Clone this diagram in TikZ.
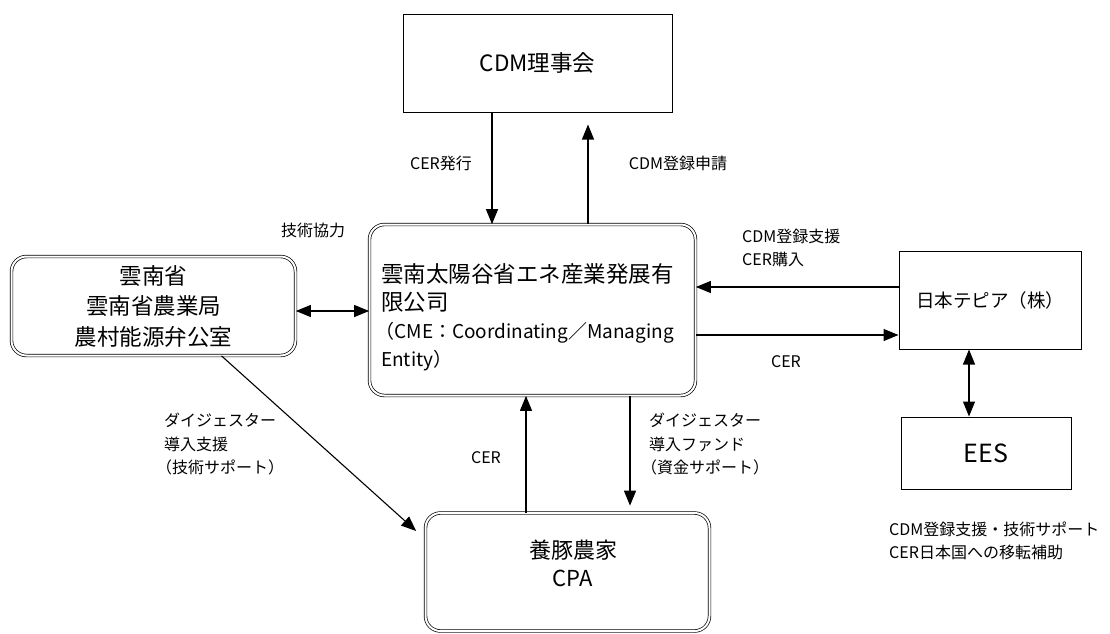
\documentclass[tikz,border=0pt]{standalone}
\usepackage{fontspec}
\setmainfont{Noto Sans CJK JP}
\usepackage{tikz}
\usetikzlibrary{arrows.meta,positioning}

\begin{document}
\begin{tikzpicture}[x=1pt, y=-1pt,
    box/.style={rectangle, draw, line width=1pt},
    dbox/.style={rectangle, rounded corners=15pt, draw, line width=0.7pt,
                 double, double distance=2pt},
    lbl/.style={font=\fontsize{16}{23.5}\selectfont, align=left, inner sep=0pt},
    arr/.style={line width=1.1pt, -{Triangle[length=15pt,width=12pt]}},
    darr/.style={line width=1.1pt, {Triangle[length=15pt,width=12pt]}-{Triangle[length=15pt,width=12pt]}},
]
\useasboundingbox (0,0) rectangle (1110,633);

% CDM board
\node[box, minimum width=269pt, minimum height=98pt,
      font=\fontsize{22.5}{26}\selectfont] (cdm) at (537.5,63) {CDM理事会};

% CME box
\node[dbox, minimum width=326pt, minimum height=171pt] (cme) at (532.5,310) {};
\node[anchor=west, align=left, inner sep=0pt, font=\fontsize{22.5}{28}\selectfont]
      (cmetext) at (381,317) {雲南太陽谷省エネ産業発展有\\限公司\\
      {\fontsize{19}{28}\selectfont \kern-0.3em（CME：Coordinating／Managing}\\
      {\fontsize{19}{28}\selectfont Entity）}};

% Yunnan province box
\node[dbox, minimum width=284pt, minimum height=99pt, align=center,
      font=\fontsize{22.5}{30.5}\selectfont] (yunnan) at (153.5,306)
      {雲南省\\雲南省農業局\\農村能源弁公室};

% Tepia box
\node[box, minimum width=182pt, minimum height=98pt,
      font=\fontsize{18.5}{22}\selectfont] (tepia) at (990,300) {日本テピア（株）};

% EES box
\node[box, minimum width=170pt, minimum height=72pt,
      font=\fontsize{25}{28}\selectfont] (ees) at (986,453) {EES};

% pig farmers box
\node[dbox, minimum width=284pt, minimum height=118pt] (cpa) at (567.5,572) {};
\node[align=center, inner sep=0pt, font=\fontsize{22}{28}\selectfont]
      (cpatext) at (573,563) {養豚農家\\CPA};

% connectors
\draw[arr] ([xshift=-45.5pt]cdm.south) -- ([xshift=-40.5pt]cme.north);
\draw[arr] ([xshift=55.5pt]cme.north) -- ([xshift=50.5pt,yshift=-12pt]cdm.south);
\draw[darr] ([yshift=-5pt]yunnan.east) -- ([yshift=-5pt]yunnan.east -| cme.west);
\draw[arr] ([yshift=13pt]tepia.west) -- ([yshift=13pt]tepia.west -| cme.east);
\draw[arr] ([yshift=-35pt]tepia.west -| cme.east) -- ([yshift=-35pt]tepia.west);
\draw[darr] ([xshift=-21pt]tepia.south) -- ([xshift=-17pt]ees.north);
\draw[arr] ([xshift=68pt]yunnan.south) -- ([xshift=-9pt,yshift=41pt]cpa.west);
\draw[arr] ([xshift=-41.5pt]cpa.north) -- ([xshift=-6.5pt]cme.south);
\draw[arr] ([xshift=97.5pt]cme.south) -- ([xshift=62.5pt,yshift=7pt]cpa.north);

% labels
\node[lbl] (lissue) at (441,163) {CER発行};
\node[lbl] (lreg) at (678,163) {CDM登録申請};
\node[lbl] (ltech) at (313,230) {技術協力};
\node[lbl, anchor=west] (lsupport) at (742,248) {CDM登録支援\\CER購入};
\node[lbl] (lcerright) at (786,362) {CER};
\node[lbl, anchor=west] (ldigtech) at (164,444) {ダイジェスター\\導入支援\\\kern-0.5em（技術サポート）};
\node[lbl] (lcerup) at (486,458) {CER};
\node[lbl, anchor=west] (ldigfund) at (649,444) {ダイジェスター\\導入ファンド\\\kern-0.5em（資金サポート）};
\node[lbl, anchor=west] (lees) at (889,541) {CDM登録支援・技術サポート\\CER日本国への移転補助};

\end{tikzpicture}
\end{document}
